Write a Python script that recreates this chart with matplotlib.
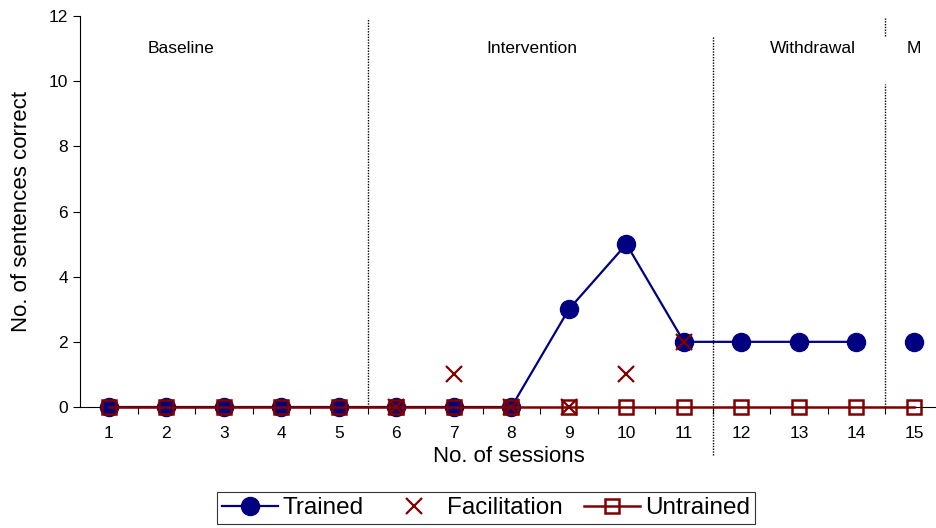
import numpy as np
import matplotlib
matplotlib.use("Agg")
import matplotlib.pyplot as plt
from matplotlib.lines import Line2D

plt.rcParams['font.family'] = ['Liberation Sans', 'DejaVu Sans']

sessions = list(range(1, 16))
trained = [0, 0, 0, 0, 0, 0, 0, 0, 3, 5, 2, 2, 2, 2, 2]
facilitation = [np.nan, np.nan, np.nan, np.nan, np.nan, 0, 1, 0, 0, 1, 2,
                np.nan, np.nan, np.nan, np.nan]
untrained = [0] * 15
phases = ["Baseline", "Intervention", "Withdrawal", "M"]
phase_label_x = [2.25, 8.35, 13.25, 15.0]
phase_breaks = [5.5, 11.5, 14.5]

navy = "#000080"
dred = "#800000"

fig = plt.figure(figsize=(9.37, 5.28), dpi=100)
ax = fig.add_axes([80/937, 1-407/528, 1-80/937, (407-16)/528])

x = np.array(sessions, dtype=float)
tr = np.array(trained, dtype=float)
# trained: connected sessions 1-14, separate point for 15 (new phase)
ax.plot(x[:14], tr[:14], color=navy, lw=1.6, marker='o', ms=13,
        mfc=navy, mec=navy, zorder=3, clip_on=False)
ax.plot(x[14:], tr[14:], color=navy, lw=1.6, marker='o', ms=13,
        mfc=navy, mec=navy, zorder=3, clip_on=False)
ax.plot(x, facilitation, ls='none', marker='x', ms=12, mew=1.6,
        color=dred, zorder=4, clip_on=False)
ax.plot(x, untrained, color=dred, lw=1.8, marker='s', ms=10.5,
        mfc='none', mec=dred, mew=1.8, zorder=5, clip_on=False)

ax.set_xlim(0.5, 15.4)
ax.set_ylim(0, 12)
ax.set_yticks(range(0, 13, 2))
ax.set_xticks(sessions)
ax.set_xticks(np.arange(1.5, 15.0, 1.0), minor=True)
ax.tick_params(axis='x', which='major', length=0, labelsize=12.5, pad=14)
ax.tick_params(axis='x', which='minor', length=5, direction='out', width=0.8)
ax.tick_params(axis='y', length=5, direction='out', width=0.8, labelsize=12.5)
for s in ['top', 'right']:
    ax.spines[s].set_visible(False)
for s in ['left', 'bottom']:
    ax.spines[s].set_linewidth(0.8)
ax.spines['bottom'].set_zorder(1)

ax.set_xlabel("No. of sessions", fontsize=16, labelpad=3)
ax.set_ylabel("No. of sentences correct", fontsize=16, labelpad=12)

# phase change lines
dot = (0, (1, 1))
ax.plot([phase_breaks[0]] * 2, [0, 11.95], color='black', lw=1, ls=dot,
        clip_on=False)
ax.plot([phase_breaks[1]] * 2, [-1.47, 11.4], color='black', lw=1, ls=dot,
        clip_on=False)
ax.plot([phase_breaks[2]] * 2, [11.4, 11.95], color='black', lw=1, ls=dot,
        clip_on=False)
ax.plot([phase_breaks[2]] * 2, [0, 9.9], color='black', lw=1, ls=dot,
        clip_on=False)

for lab, px in zip(phases, phase_label_x):
    ax.text(px, 11.0, lab, ha='center', va='center', fontsize=12.5)

handles = [
    Line2D([], [], color=navy, lw=1.6, marker='o', ms=13, mfc=navy, mec=navy),
    Line2D([], [], ls='none', color=dred, marker='x', ms=12, mew=1.6),
    Line2D([], [], color=dred, lw=1.8, marker='s', ms=10.5, mfc='none',
           mec=dred, mew=1.8),
]
leg = fig.legend(handles, ["Trained", "Facilitation", "Untrained"],
                 loc='center', bbox_to_anchor=(486/937, 1-508/528), ncol=3,
                 fontsize=17.5, frameon=True, fancybox=False,
                 edgecolor='black', handlelength=2.3, handletextpad=0.2,
                 columnspacing=0.9, borderpad=0.2, borderaxespad=0)
leg.get_frame().set_linewidth(0.8)

fig.savefig("out.png", dpi=100)
